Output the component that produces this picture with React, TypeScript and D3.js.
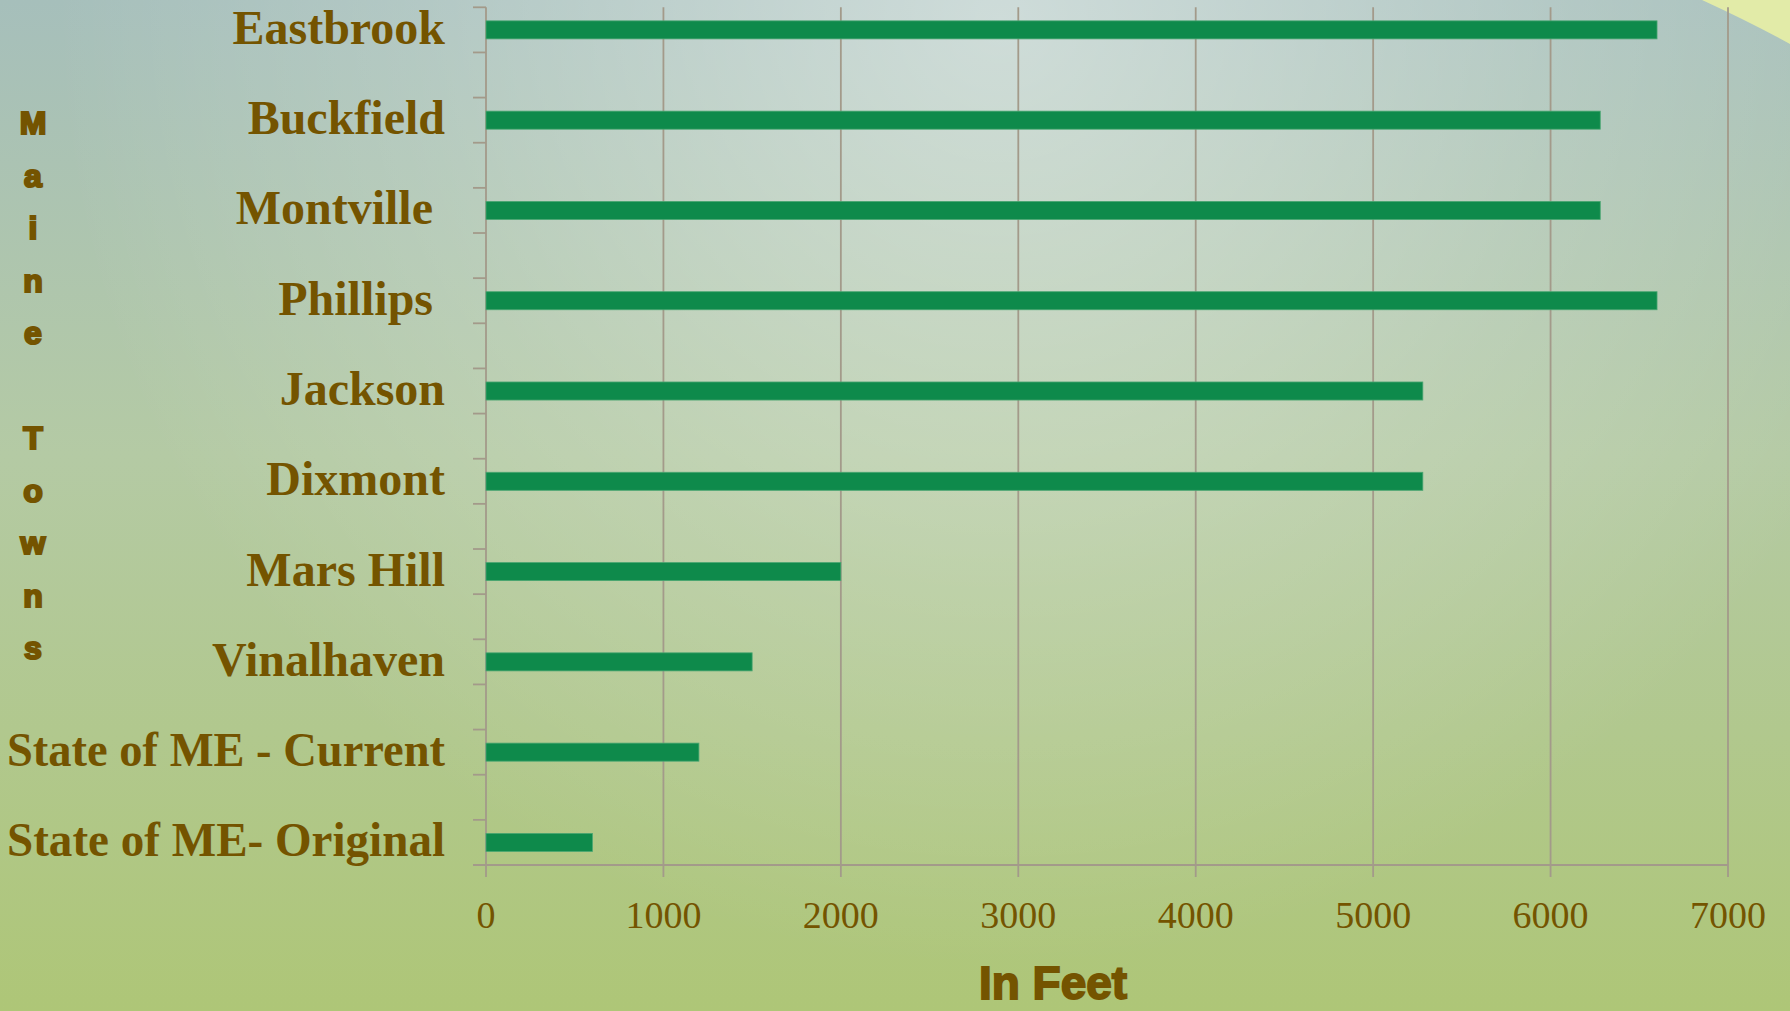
import React, { useEffect, useRef } from "react";
import * as d3 from "d3";

// towns, top to bottom as they appear in the chart
const towns: string[] = [
  "Eastbrook",
  "Buckfield",
  "Montville ",
  "Phillips ",
  "Jackson",
  "Dixmont",
  "Mars Hill",
  "Vinalhaven",
  "State of ME - Current",
  "State of ME- Original",
];
const feet: number[] = [6600, 6280, 6280, 6600, 5280, 5280, 2000, 1500, 1200, 600];
const xTicks: number[] = [0, 1000, 2000, 3000, 4000, 5000, 6000, 7000];
const yTitle = "Maine Towns";
const xTitle = "In Feet";

const W = 1790;
const H = 1011;
const brown = "#745400";
const gridColor = "#a39a8a";
const barColor = "#0e8a4b";

const App: React.FC = () => {
  const ref = useRef<SVGSVGElement>(null);

  useEffect(() => {
    document.body.style.margin = "0";
    if (!ref.current) return;
    const svg = d3.select(ref.current);
    svg.selectAll("*").remove();

    const defs = svg.append("defs");
    const lin = defs
      .append("linearGradient")
      .attr("id", "bg")
      .attr("x1", 0)
      .attr("y1", 0)
      .attr("x2", 0)
      .attr("y2", 1);
    lin.append("stop").attr("offset", "0%").attr("stop-color", "#a6bfbb");
    lin.append("stop").attr("offset", "45%").attr("stop-color", "#b4caa4");
    lin.append("stop").attr("offset", "100%").attr("stop-color", "#aec677");

    const rad = defs
      .append("radialGradient")
      .attr("id", "glow")
      .attr("gradientUnits", "userSpaceOnUse")
      .attr("cx", 1000)
      .attr("cy", 20)
      .attr("r", 950);
    rad.append("stop").attr("offset", "0%").attr("stop-color", "#ffffff").attr("stop-opacity", 0.45);
    rad.append("stop").attr("offset", "60%").attr("stop-color", "#ffffff").attr("stop-opacity", 0.15);
    rad.append("stop").attr("offset", "100%").attr("stop-color", "#ffffff").attr("stop-opacity", 0);

    svg.append("rect").attr("width", W).attr("height", H).attr("fill", "url(#bg)");
    svg.append("rect").attr("width", W).attr("height", H).attr("fill", "url(#glow)");

    // yellow swoosh in the top right corner
    svg
      .append("path")
      .attr("d", `M1702,0 Q1750,22 ${W},44 L${W},0 Z`)
      .attr("fill", "#e2eba8");

    const left = 486;
    const right = 1728;
    const top = 7.3;
    const bottom = 865;

    const x = d3.scaleLinear().domain([0, 7000]).range([left, right]);

    // each town sits in its own slot with an empty slot between towns
    const slots: string[] = [];
    towns.forEach((t, i) => {
      slots.push(t);
      if (i < towns.length - 1) slots.push(`gap${i}`);
    });
    const y = d3.scaleBand<string>().domain(slots).range([top, bottom]).paddingInner(0).paddingOuter(0);
    const bw = y.bandwidth();

    // vertical gridlines + x ticks
    svg
      .append("g")
      .selectAll("line")
      .data(xTicks)
      .enter()
      .append("line")
      .attr("x1", (d) => x(d))
      .attr("x2", (d) => x(d))
      .attr("y1", top)
      .attr("y2", bottom + 12)
      .attr("stroke", gridColor)
      .attr("stroke-width", 1.8);

    // y axis ticks at slot boundaries
    const bounds = slots.map((s) => y(s) as number).concat([bottom]);
    svg
      .append("g")
      .selectAll("line")
      .data(bounds)
      .enter()
      .append("line")
      .attr("x1", left - 13)
      .attr("x2", left)
      .attr("y1", (d) => d)
      .attr("y2", (d) => d)
      .attr("stroke", gridColor)
      .attr("stroke-width", 1.8);

    svg
      .append("line")
      .attr("x1", left - 13)
      .attr("x2", right)
      .attr("y1", bottom)
      .attr("y2", bottom)
      .attr("stroke", gridColor)
      .attr("stroke-width", 2);

    // bars
    const barH = bw * 0.4;
    svg
      .append("g")
      .selectAll("rect")
      .data(towns)
      .enter()
      .append("rect")
      .attr("x", x(0))
      .attr("y", (d) => (y(d) as number) + bw / 2 - barH / 2)
      .attr("width", (d, i) => x(feet[i]) - x(0))
      .attr("height", barH)
      .attr("fill", barColor)
      .attr("stroke", "#4aa672")
      .attr("stroke-width", 0.8);

    // category labels, squeezed if wider than the room on the left
    const labelRight = 445;
    const maxW = labelRight - 7;
    svg
      .append("g")
      .selectAll("text")
      .data(towns)
      .enter()
      .append("text")
      .attr("x", labelRight)
      .attr("y", (d) => (y(d) as number) + bw / 2 + 14)
      .attr("text-anchor", "end")
      .style("white-space", "pre")
      .style("font-family", "'Liberation Serif', serif")
      .style("font-weight", "bold")
      .style("font-size", "48px")
      .attr("fill", brown)
      .text((d) => d)
      .each(function () {
        const el = this as SVGTextElement;
        const len = el.getComputedTextLength();
        if (len > maxW) {
          el.setAttribute("textLength", String(maxW));
          el.setAttribute("lengthAdjust", "spacingAndGlyphs");
        }
      });

    // x tick labels
    svg
      .append("g")
      .selectAll("text")
      .data(xTicks)
      .enter()
      .append("text")
      .attr("x", (d) => x(d))
      .attr("y", 928)
      .attr("text-anchor", "middle")
      .style("font-family", "'Liberation Serif', serif")
      .style("font-size", "38px")
      .attr("fill", brown)
      .text((d) => String(d));

    // x axis title
    svg
      .append("text")
      .attr("x", 1053)
      .attr("y", 999)
      .attr("text-anchor", "middle")
      .style("font-family", "'Liberation Sans', Arial, sans-serif")
      .style("font-weight", "bold")
      .style("font-size", "46px")
      .attr("fill", brown)
      .attr("stroke", brown)
      .attr("stroke-width", 1.8)
      .text(xTitle);

    // y axis title, stacked letters
    svg
      .append("g")
      .selectAll("text")
      .data(yTitle.split(""))
      .enter()
      .append("text")
      .attr("x", 33)
      .attr("y", (d, i) => 134 + i * 52.5)
      .attr("text-anchor", "middle")
      .style("font-family", "'Liberation Sans', Arial, sans-serif")
      .style("font-weight", "bold")
      .style("font-size", "32px")
      .attr("fill", brown)
      .attr("stroke", brown)
      .attr("stroke-width", 2.2)
      .text((d) => d);
  }, []);

  return <svg ref={ref} width={W} height={H} style={{ display: "block" }} />;
};

export default App;
